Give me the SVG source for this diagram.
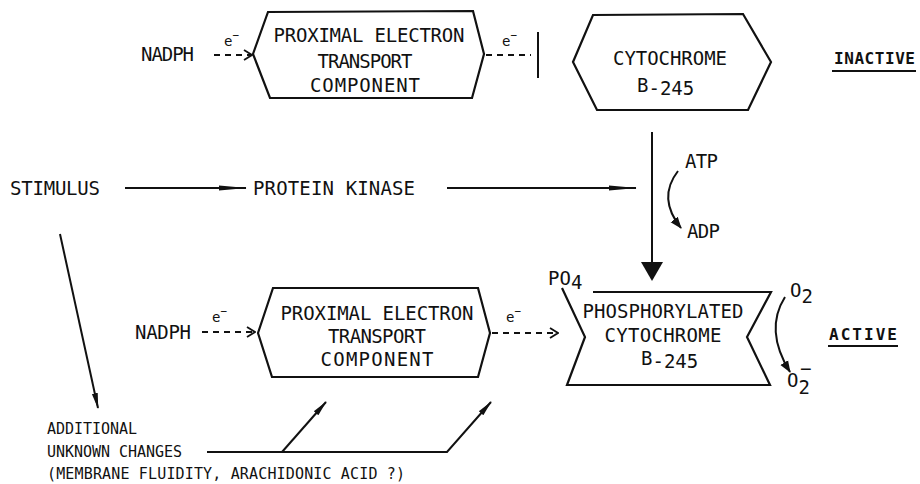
<svg xmlns="http://www.w3.org/2000/svg" width="920" height="484" viewBox="0 0 920 484">
<defs>
<style>
.t{font-family:"DejaVu Sans Mono","Liberation Mono",monospace;font-size:19px;fill:#111}
.s{font-size:15px}
.e{font-size:14px}
.b{font-weight:bold;font-size:16px}
.ln{stroke:#111;stroke-width:2;fill:none}
.dsh{stroke-dasharray:6 5}
.shape{stroke:#111;stroke-width:2.2;fill:none;stroke-linejoin:miter}
</style>
<marker id="ah" markerUnits="userSpaceOnUse" viewBox="0 0 28 8" markerWidth="28" markerHeight="8" refX="27" refY="4" orient="auto"><path d="M0,1.5 L28,4 L0,6.5 z" fill="#111"/></marker>
<marker id="ah2" markerUnits="userSpaceOnUse" viewBox="0 0 16 8" markerWidth="16" markerHeight="8" refX="15" refY="4" orient="auto"><path d="M0,1 L16,4 L0,7 z" fill="#111"/></marker>
<marker id="ahc" markerUnits="userSpaceOnUse" viewBox="0 0 12 10" markerWidth="12" markerHeight="10" refX="11" refY="5" orient="auto"><path d="M0,0.5 L12,5 L0,9.5 z" fill="#111"/></marker>
<marker id="chev" markerUnits="userSpaceOnUse" viewBox="0 0 10 12" markerWidth="10" markerHeight="12" refX="9" refY="6" orient="auto"><path d="M1,1 L9,6 L1,11" fill="none" stroke="#111" stroke-width="1.8"/></marker>
</defs>
<rect width="920" height="484" fill="#fff"/>

<g id="connectors">
  <path class="ln dsh" d="M214,55 L252,55" marker-end="url(#chev)"/>
  <path class="ln dsh" d="M486,55 L531,55"/>
  <path class="ln" d="M538,32 L538,78" stroke-width="2.6"/>
  <path class="ln" d="M125,188 L246,188" marker-end="url(#ah)"/>
  <path class="ln" d="M447,188 L636,188" marker-end="url(#ah)"/>
  <path class="ln" d="M652,132 L652,264" stroke-width="2.5"/>
  <polygon points="641,262 663,262 652,281" fill="#111"/>
  <path class="ln" d="M678,171 Q657,198 681,228" marker-end="url(#ahc)"/>
  <path class="ln" d="M785,297 Q764,330 790,372" marker-end="url(#ahc)"/>
  <path class="ln" d="M60,234 L98,408" marker-end="url(#ah2)"/>
  <path class="ln dsh" d="M202,332 L255,332" marker-end="url(#chev)"/>
  <path class="ln dsh" d="M492,333 L558,333" marker-end="url(#chev)"/>
  <path class="ln" d="M207,452 L447,452 L491,402" marker-end="url(#ah2)"/>
  <path class="ln" d="M282,452 L326,402" marker-end="url(#ah2)"/>
  <text class="t e" x="224" y="46">e<tspan dy="-7" font-size="11">−</tspan></text>
  <text class="t e" x="502" y="46">e<tspan dy="-7" font-size="11">−</tspan></text>
  <text class="t e" x="212" y="322">e<tspan dy="-7" font-size="11">−</tspan></text>
  <text class="t e" x="506" y="322">e<tspan dy="-7" font-size="11">−</tspan></text>
  <text class="t" x="685" y="168" textLength="33">ATP</text>
  <text class="t" x="687" y="238" textLength="33">ADP</text>
</g>

<g id="nadph-top"><text class="t" x="141" y="61" textLength="53">NADPH</text></g>

<g id="pet-top">
  <polygon class="shape" points="253,54 268,12 473,11 484,54 472,98 270,98"/>
  <text class="t" x="369" y="42" text-anchor="middle" textLength="191">PROXIMAL ELECTRON</text>
  <text class="t" x="365" y="68" text-anchor="middle" textLength="95">TRANSPORT</text>
  <text class="t" x="365" y="92" text-anchor="middle" textLength="110">COMPONENT</text>
</g>

<g id="cyt-inactive">
  <polygon class="shape" points="573,62 593,15 743,14 771,62 748,110 597,110"/>
  <text class="t" x="670" y="65" text-anchor="middle" textLength="114">CYTOCHROME</text>
  <text class="t" x="637" y="92">B<tspan dy="3">-245</tspan></text>
</g>

<g id="inactive">
  <text class="t b" x="834" y="64" textLength="81">INACTIVE</text>
  <path class="ln" d="M832,71 L916,71" stroke-width="1.6"/>
</g>

<g id="stimulus"><text class="t" x="10" y="195" textLength="90">STIMULUS</text></g>
<g id="protein-kinase"><text class="t" x="253" y="195" textLength="162">PROTEIN KINASE</text></g>

<g id="nadph-bottom"><text class="t" x="135" y="339" textLength="56">NADPH</text></g>

<g id="pet-bottom">
  <polygon class="shape" points="258,333 273,288 478,288 490,333 478,377 272,377"/>
  <text class="t" x="377" y="320" text-anchor="middle" textLength="193">PROXIMAL ELECTRON</text>
  <text class="t" x="377" y="343" text-anchor="middle" textLength="98">TRANSPORT</text>
  <text class="t" x="377" y="366" text-anchor="middle" textLength="113">COMPONENT</text>
</g>

<g id="cyt-active">
  <path class="shape" d="M593,292 L771,292 L747,337 L770,385 L567,385 L585,337 L562,288"/>
  <text class="t" x="548" y="285" font-size="17">PO<tspan dy="4">4</tspan></text>
  <text class="t" x="663" y="318" text-anchor="middle" textLength="161">PHOSPHORYLATED</text>
  <text class="t" x="663" y="342" text-anchor="middle" textLength="117">CYTOCHROME</text>
  <text class="t" x="641" y="365">B<tspan dy="3">-245</tspan></text>
</g>

<g id="o2">
  <text class="t" x="790" y="297">O<tspan dy="6">2</tspan></text>
</g>
<g id="superoxide">
  <text class="t" x="787" y="387">O<tspan dy="7">2</tspan></text>
  <text class="t" x="800" y="375" font-size="13">−</text>
</g>

<g id="active">
  <text class="t b" x="829" y="340" textLength="68">ACTIVE</text>
  <path class="ln" d="M828,346 L898,346" stroke-width="1.6"/>
</g>

<g id="additional">
  <text class="t s" x="47" y="434" textLength="90">ADDITIONAL</text>
  <text class="t s" x="47" y="457" textLength="135">UNKNOWN CHANGES</text>
  <text class="t s" x="47" y="479" textLength="358">(MEMBRANE FLUIDITY, ARACHIDONIC ACID ?)</text>
</g>
</svg>
